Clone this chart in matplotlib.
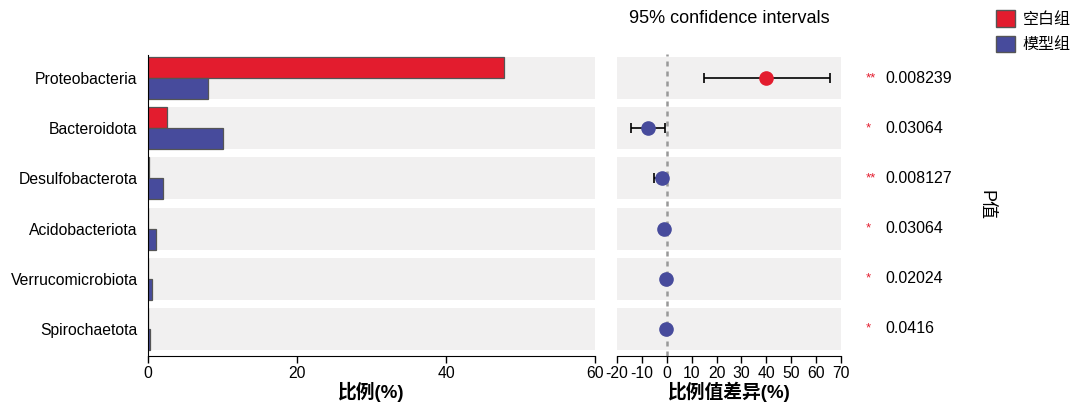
import matplotlib.pyplot as plt
import numpy as np

plt.rcParams['font.family'] = ['Liberation Sans', 'Noto Sans CJK SC', 'DejaVu Sans']
plt.rcParams['axes.unicode_minus'] = False

phyla = ['Proteobacteria', 'Bacteroidota', 'Desulfobacterota',
         'Acidobacteriota', 'Verrucomicrobiota', 'Spirochaetota']
blank = [47.8, 2.6, 0.1, 0.05, 0.05, 0.03]      # 空白组 proportion (%)
model = [8.1, 10.1, 2.0, 1.1, 0.6, 0.3]         # 模型组 proportion (%)
diff = [39.8, -7.6, -2.0, -1.2, -0.4, -0.2]     # difference in proportion (%)
ci_low = [14.9, -14.5, -5.2, -1.6, -0.6, -0.3]
ci_high = [65.5, -0.8, -0.8, -0.8, -0.2, -0.1]
pvals = ['0.008239', '0.03064', '0.008127', '0.03064', '0.02024', '0.0416']
stars = ['**', '*', '**', '*', '*', '*']
groups = ['空白组', '模型组']

red = '#E31C2E'
blue = '#474B9C'
band = '#F1F0F0'

fig = plt.figure(figsize=(10.74, 4.03), dpi=100)
ax1 = fig.add_axes([148 / 1074, 1 - 356 / 403, 447 / 1074, 305 / 403])
ax2 = fig.add_axes([617 / 1074, 1 - 356 / 403, 224 / 1074, 305 / 403])

y = np.arange(len(phyla))
h = 0.42

# left panel: proportions of each group
ax1.barh(y, [60] * len(y), height=0.84, color=band, zorder=0)
ax1.barh(y - h / 2, blank, height=h, color=red, edgecolor='#555555', lw=0.9, zorder=2)
ax1.barh(y + h / 2, model, height=h, color=blue, edgecolor='#555555', lw=0.9, zorder=2)
ax1.set_xlim(0, 60)
ax1.set_ylim(5.54, -0.54)
ax1.set_yticks(y)
ax1.set_yticklabels(phyla, fontsize=11.3)
ax1.tick_params(axis='y', length=0, pad=7.5)
ax1.set_xticks([0, 20, 40, 60])
ax1.tick_params(axis='x', labelsize=11.3, length=5, width=1, pad=2)
ax1.spines['top'].set_visible(False)
ax1.spines['right'].set_visible(False)
ax1.spines['left'].set_bounds(-0.46, 5.54)
ax1.set_xlabel('比例(%)', fontsize=13.5, fontweight='bold', labelpad=1)

# right panel: difference with 95% CI
ax2.barh(y, [90] * len(y), left=-20, height=0.84, color=band, zorder=0)
ax2.axvline(0, color='#999999', ls=(0, (2, 2)), lw=1.8, ymax=0.99, zorder=1)
for i in range(len(phyla)):
    c = red if diff[i] > 0 else blue
    ax2.errorbar(diff[i], i, xerr=[[diff[i] - ci_low[i]], [ci_high[i] - diff[i]]],
                 fmt='none', ecolor='black', elinewidth=1.2, capsize=3.5,
                 capthick=1.2, zorder=2)
    ax2.plot(diff[i], i, 'o', color=c, ms=9.5, zorder=3)
    ax2.text(1.11, i, stars[i], transform=ax2.get_yaxis_transform(),
             color=red, fontsize=9.5, va='center', ha='left')
    ax2.text(1.2, i, pvals[i], transform=ax2.get_yaxis_transform(),
             fontsize=11.5, va='center', ha='left')
ax2.set_xlim(-20, 70)
ax2.set_ylim(5.54, -0.54)
ax2.set_yticks([])
ax2.set_xticks(np.arange(-20, 71, 10))
ax2.tick_params(axis='x', labelsize=11.3, length=5, width=1, pad=2)
for s in ['top', 'right', 'left']:
    ax2.spines[s].set_visible(False)
ax2.set_xlabel('比例值差异(%)', fontsize=13.5, fontweight='bold', labelpad=1)
ax2.set_title('95% confidence intervals', fontsize=13, pad=20)

fig.text(986 / 1074, 1 - 205 / 403, 'P值', rotation=270, fontsize=13,
         ha='center', va='center')

# legend
handles = [plt.Rectangle((0, 0), 1, 1, facecolor=red, edgecolor='#555555'),
           plt.Rectangle((0, 0), 1, 1, facecolor=blue, edgecolor='#555555')]
fig.legend(handles, groups, loc='upper left', bbox_to_anchor=(983 / 1074, 1.006),
           frameon=False, fontsize=11.5, handlelength=1.2, handleheight=1.2,
           handletextpad=0.5, labelspacing=0.55, borderpad=0.3)

fig.savefig('out.png', dpi=100)
